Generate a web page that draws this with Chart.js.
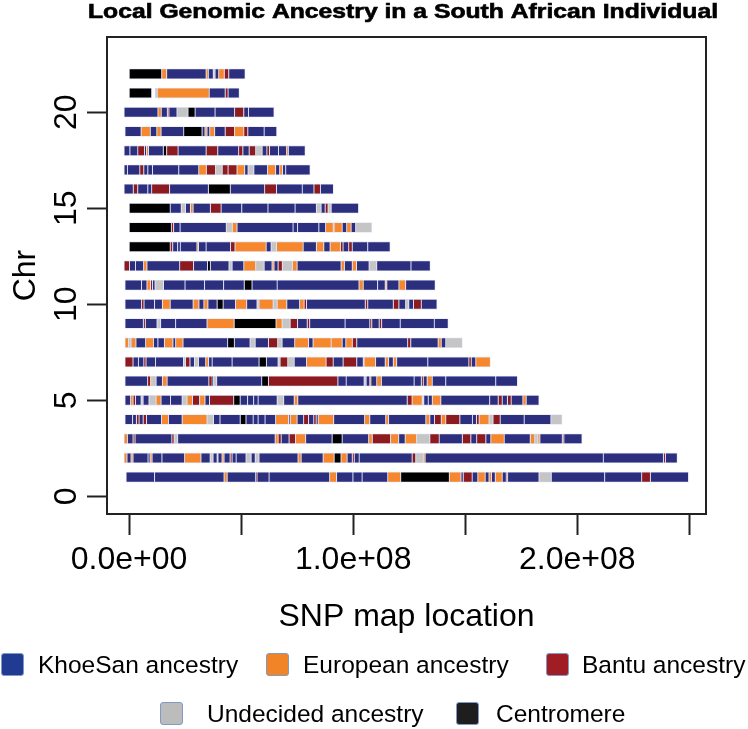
<!DOCTYPE html>
<html>
<head>
<meta charset="utf-8">
<title>Local Genomic Ancestry in a South African Individual</title>
<script src="https://cdn.jsdelivr.net/npm/chart.js@4.4.1/dist/chart.umd.min.js"></script>
<style>
  body { margin: 0; background: #fff; }
  #wrap { position: relative; width: 748px; height: 729px; }
  #key { position: absolute; left: 0; top: 0; width: 748px; height: 729px; pointer-events: none;
         font: 24.5px "Liberation Sans", Arial, Helvetica, sans-serif; color: #000; }
  .swatch { position: absolute; width: 21px; height: 21px; border: 1.5px solid #7f9ac6; border-radius: 3px; }
  .key-text { position: absolute; line-height: 24px; white-space: nowrap; }
</style>
</head>
<body>
<div id="wrap">
  <canvas id="chart" width="748" height="729"></canvas>
  <div id="key"></div>
</div>
<script>
// segments per chromosome: [start (Mb), ancestry], last entry = chromosome end
// K KhoeSan, E European, B Bantu, U undecided, C centromere, '' no call
const chr1 = [[-1.3,'K'],[11.4,'K'],[42.4,'E'],[43.8,'K'],[56.5,'B'],[57.1,'K'],[62.5,'K'],[89.5,'E'],[92.6,'K'],[99.9,'K'],[104,'K'],[115.4,'E'],[121.2,'C'],[142.9,'E'],[148.1,'K'],[149.1,'B'],[153.1,'K'],[155.6,'E'],[158.9,'K'],[160.6,'E'],[161.7,'K'],[163.4,'E'],[166.5,'K'],[168.3,'B'],[168.9,'K'],[182.9,'U'],[188.4,'K'],[212.2,'K'],[228.7,'B'],[232.6,'K'],[249.6]];
const chr2 = [[-2.2,'E'],[-0.9,'K'],[0.9,'E'],[1.8,'K'],[8.5,'K'],[9.4,'E'],[10.3,'K'],[14.7,'K'],[24.8,'E'],[32.1,'K'],[36.2,'U'],[37.5,'K'],[39.3,'U'],[39.7,'K'],[41.5,'E'],[42.4,'K'],[45.1,'B'],[46,'K'],[47.8,'K'],[52.2,'U'],[54.5,'K'],[56.3,'U'],[58,'K'],[75.4,'E'],[76.8,'K'],[86.6,'E'],[91.5,'C'],[94.6,'E'],[97.3,'K'],[99.6,'B'],[100.5,'K'],[102.7,'K'],[126.3,'B'],[127.9,'U'],[131.3,'E'],[132.1,'K'],[211.6,'K'],[238.4,'B'],[239.3,'K'],[244.6]];
const chr3 = [[-2.2,'E'],[-0.7,'K'],[1.8,'B'],[2.7,'K'],[19.1,'B'],[20.1,'U'],[21.7,'K'],[65.2,'E'],[66.5,'B'],[67.9,'K'],[71.4,'B'],[74.3,'E'],[78.8,'K'],[90.6,'C'],[95.1,'K'],[106.9,'E'],[108.5,'B'],[116.7,'E'],[120.3,'K'],[123.2,'E'],[128.3,'U'],[134.2,'B'],[138.4,'K'],[148.7,'B'],[152.5,'K'],[155.1,'B'],[159.2,'K'],[161.4,'E'],[167.4,'K'],[179,'E'],[181,'U'],[182.4,'E'],[183.3,'K'],[193.3,'B'],[194,'K'],[202.1]];
const chr4 = [[-1.8,'K'],[1.6,'K'],[3.3,'B'],[4.5,'K'],[6.3,'B'],[7.8,'K'],[14.5,'E'],[17.6,'K'],[23.7,'E'],[34.8,'U'],[37.7,'K'],[40.6,'K'],[49.6,'C'],[52.2,'K'],[55.4,'K'],[57.6,'K'],[60.7,'K'],[65.4,'E'],[71.2,'K'],[71.9,'E'],[75,'K'],[77.9,'B'],[80.1,'K'],[82.4,'B'],[83.5,'K'],[84.4,'E'],[91.3,'K'],[105.1,'E'],[107.4,'K'],[114.5,'E'],[115.8,'K'],[132.4,'E'],[134.2,'K'],[136.3,'B'],[139.3,'E'],[141.3,'B'],[147.6,'K'],[153.2,'K'],[155,'B'],[156.2,'E'],[160.6,'U'],[162.4,'B'],[165.6,'K'],[176.3,'K'],[188.2,'U'],[193.2]];
const chr5 = [[-1.8,'K'],[0.7,'E'],[1.8,'B'],[2.9,'K'],[5.4,'U'],[6.3,'K'],[8.9,'U'],[12.1,'E'],[14.3,'K'],[18.5,'K'],[23.7,'U'],[25.9,'E'],[28.3,'B'],[31.5,'E'],[33.9,'K'],[35.9,'B'],[46.7,'C'],[49.6,'K'],[52.9,'K'],[55.6,'K'],[57.6,'K'],[66.1,'U'],[69,'K'],[73.7,'E'],[75.3,'K'],[124.1,'B'],[126.3,'E'],[130.8,'U'],[131.5,'K'],[133.5,'K'],[135.3,'E'],[139.1,'K'],[160.9,'K'],[164.7,'B'],[166.5,'K'],[168.8,'B'],[170.5,'K'],[175.7,'E'],[177.2,'K'],[182.9]];
const chr6 = [[-1.8,'K'],[8.3,'B'],[9.6,'E'],[10.1,'U'],[12.1,'K'],[14.9,'E'],[17,'K'],[35.6,'B'],[37.1,'K'],[37.5,'U'],[39.1,'K'],[59.2,'C'],[62.2,'B'],[93.2,'K'],[96.9,'K'],[104.9,'U'],[105.8,'K'],[107.4,'E'],[107.9,'K'],[110.5,'E'],[112.6,'K'],[127.2,'K'],[130.4,'B'],[131.3,'K'],[133,'E'],[135.3,'K'],[141.3,'K'],[163.6,'K'],[173.3]];
const chr7 = [[-1.8,'B'],[1.8,'K'],[4.2,'K'],[6.6,'B'],[7.6,'K'],[11.8,'K'],[24.3,'U'],[25.2,'B'],[27.2,'K'],[29.2,'U'],[31,'K'],[34.2,'E'],[35.5,'K'],[37.1,'K'],[46,'K'],[58,'C'],[61.3,'K'],[66.5,'U'],[67.4,'B'],[70.8,'U'],[73.7,'K'],[79.2,'E'],[87.9,'B'],[91.1,'K'],[95.5,'B'],[101.6,'K'],[104.5,'U'],[104.9,'E'],[110,'K'],[114.3,'E'],[115.8,'K'],[117.9,'E'],[119.4,'K'],[133.3,'K'],[151.6,'B'],[152.7,'K'],[154.7,'E'],[161.2]];
const chr8 = [[-1.8,'E'],[-0.2,'U'],[0.9,'E'],[3.1,'K'],[7.4,'E'],[10.9,'K'],[12.9,'K'],[15.8,'E'],[19.6,'K'],[20.8,'E'],[24.1,'K'],[44,'C'],[47,'K'],[54,'U'],[56.3,'K'],[62.2,'B'],[66.3,'U'],[68.3,'K'],[73.9,'E'],[80.1,'K'],[82.1,'E'],[90.2,'E'],[95.1,'K'],[96.7,'E'],[99.6,'B'],[101.6,'K'],[124.3,'B'],[125.7,'K'],[137.9,'E'],[139.3,'K'],[141.3,'U'],[148.7]];
const chr9 = [[-1.8,'K'],[6.4,'B'],[7.3,'K'],[12.5,'U'],[14.1,'K'],[20.8,'K'],[34.8,'E'],[46.9,'C'],[65.6,'E'],[68.3,'U'],[71.9,'B'],[75.2,'K'],[79.5,'B'],[80.6,'K'],[96.4,'K'],[107.4,'B'],[108.3,'K'],[111.6,'B'],[112.7,'K'],[121,'K'],[136.2,'K'],[142.4]];
const chr10 = [[-1.8,'K'],[5.6,'B'],[6.7,'K'],[11.4,'K'],[14.9,'E'],[18.4,'K'],[28.6,'E'],[31.2,'K'],[33.4,'E'],[35.2,'K'],[39.3,'C'],[42,'K'],[47.5,'E'],[52.5,'K'],[57.1,'U'],[58,'E'],[64.3,'U'],[66.1,'E'],[70.4,'K'],[76.1,'E'],[78.1,'B'],[79.2,'K'],[105.4,'B'],[106.5,'K'],[117.9,'B'],[120.4,'K'],[123.4,'U'],[124.8,'K'],[126.9,'B'],[130.4,'K'],[137.4]];
const chr11 = [[-1.8,'K'],[5.6,'K'],[8,'E'],[9.6,'B'],[10.5,'K'],[11.6,'U'],[15.4,'K'],[25,'K'],[33.7,'K'],[42.2,'K'],[51.4,'C'],[54.9,'K'],[66.1,'K'],[102.6,'E'],[104.5,'K'],[110.9,'K'],[114.3,'E'],[115,'K'],[120.4,'E'],[123.4,'K'],[136.6]];
const chr12 = [[-2.2,'B'],[0.2,'K'],[2.9,'K'],[6.5,'E'],[8,'K'],[22.6,'B'],[28.8,'K'],[35,'C'],[36.3,'K'],[44.6,'U'],[46,'K'],[51.2,'E'],[56.5,'U'],[60.3,'K'],[63.8,'E'],[64.7,'K'],[66.5,'B'],[68.4,'U'],[72.9,'E'],[75,'K'],[94.6,'E'],[96.1,'K'],[99.6,'E'],[101.5,'K'],[107.1,'U'],[110.5,'K'],[125.8,'K'],[134.4]];
const chr13 = [[0.1,'C'],[18.4,'B'],[19.5,'K'],[21.7,'K'],[22.9,'K'],[30.3,'E'],[31,'K'],[34.4,'K'],[45.3,'B'],[47.3,'E'],[61.2,'K'],[63.4,'U'],[65.8,'E'],[77.7,'K'],[83.6,'E'],[86.9,'K'],[89.7,'E'],[94.3,'B'],[95.5,'K'],[98,'B'],[99.6,'K'],[106.5,'K'],[116.5]];
const chr14 = [[0.1,'C'],[18.9,'B'],[19.9,'K'],[22.8,'K'],[43.4,'U'],[46.1,'E'],[48.2,'K'],[73.2,'K'],[75.2,'K'],[84.7,'K'],[87.7,'E'],[91.1,'U'],[91.5,'E'],[95.1,'K'],[97.1,'E'],[99.1,'K'],[101.1,'U'],[108.3]];
const chr15 = [[0.1,'C'],[18.4,'K'],[23.3,'U'],[25.2,'K'],[27.4,'E'],[28.6,'K'],[36.3,'B'],[41.1,'K'],[50.3,'K'],[62,'K'],[74.1,'K'],[83.6,'U'],[85.7,'K'],[87.5,'B'],[88.8,'U'],[90.2,'K'],[102.4]];
const chr16 = [[-2.2,'K'],[1.9,'B'],[3.9,'K'],[8.4,'K'],[10.1,'B'],[18.1,'K'],[35.4,'C'],[45.2,'K'],[60.5,'B'],[65.8,'K'],[77.3,'K'],[82.5,'B'],[85.4,'K'],[91.2]];
const chr17 = [[-2.2,'K'],[-0.7,'K'],[4.8,'B'],[6.6,'K'],[8.4,'K'],[10.5,'K'],[22.2,'K'],[31.1,'E'],[34.5,'B'],[38.6,'U'],[41.6,'B'],[44.2,'B'],[48.2,'E'],[51.6,'K'],[53.1,'U'],[55.7,'K'],[61.8,'E'],[65.4,'K'],[67.2,'E'],[68.5,'K'],[69.9,'K'],[80.8]];
const chr18 = [[-2.2,'K'],[0.4,'K'],[3.9,'B'],[6.9,'K'],[7.8,'E'],[8.7,'K'],[15.3,'C'],[16.8,'B'],[21.9,'K'],[34.4,'B'],[39.6,'K'],[48.9,'B'],[50.8,'K'],[53.6,'B'],[56.5,'U'],[59.4,'K'],[61.5,'B'],[62.7,'K'],[66.7,'K'],[70.3,'E'],[71.1,'K'],[78.6]];
const chr19 = [[-1.8,'K'],[5.4,'E'],[9.5,'K'],[12.4,'E'],[14.3,'K'],[24.4,'C'],[32.6,'K'],[33.9,'E'],[34.8,'K'],[36,'E'],[38.2,'K'],[42.9,'B'],[47.1,'E'],[51.2,'B'],[53,'K'],[60.3,'K'],[65.9]];
const chr20 = [[-2.2,'K'],[12.9,'E'],[14.4,'K'],[17.1,'B'],[17.8,'K'],[21.4,'U'],[26.3,'C'],[29.5,'K'],[38.4,'K'],[47.1,'B'],[51.2,'K'],[53.3,'K'],[64.7]];
const chr21 = [[0.1,'C'],[10.1,''],[11.6,'U'],[12.6,'E'],[35.8,'K'],[42.9,'B'],[44.2,'K'],[49.2]];
const chr22 = [[0.1,'C'],[14.6,'E'],[16.8,'K'],[34.4,'E'],[35.4,'K'],[37.6,'U'],[38.4,'K'],[40,'E'],[42.5,'B'],[44.5,'K'],[51.8]];

const chromosomes = [chr1, chr2, chr3, chr4, chr5, chr6, chr7, chr8, chr9, chr10, chr11,
  chr12, chr13, chr14, chr15, chr16, chr17, chr18, chr19, chr20, chr21, chr22];

const codes = ['K', 'E', 'B', 'U', 'C'];
const ancestryNames = ['KhoeSan ancestry', 'European ancestry', 'Bantu ancestry', 'Undecided ancestry', 'Centromere'];
const barColors = ['#2c2f7e', '#f6872c', '#8c1a1e', '#c5c5c5', '#000000'];
const keyColors = ['#213a92', '#f28428', '#a01e23', '#bcbcbc', '#1e1e1e'];

const xTicks = [0, 50, 100, 150, 200, 250];
const xTickLabels = ['0.0e+00', '', '1.0e+08', '', '2.0e+08', ''];
const yTicks = [0, 5, 10, 15, 20];
const chartTitle = 'Local Genomic Ancestry in a South African Individual';

// legend placement (px)
const keyBoxX = [1, 266, 546, 160, 456];
const keyTextX = [38, 303, 582, 207, 496];
const keyRowY = [665, 665, 665, 714, 714];

function segmentsOf(code) {
  const out = [];
  chromosomes.forEach((segs, i) => {
    for (let j = 0; j < segs.length - 1; j++) {
      if (segs[j][1] === code) out.push({ y: i + 1, x: [segs[j][0], segs[j + 1][0]] });
    }
  });
  return out;
}

Chart.defaults.font.family = '"Liberation Sans", Arial, Helvetica, sans-serif';
Chart.defaults.color = '#000';

// plot title, drawn wide like the original
const titlePlugin = {
  id: 'plotTitle',
  afterDraw(chart) {
    const ctx = chart.ctx;
    ctx.save();
    ctx.font = 'bold 19.5px "Liberation Sans", Arial, sans-serif';
    const w = ctx.measureText(chartTitle).width;
    ctx.translate(403, 18);
    ctx.scale(630 / w, 1);
    ctx.textAlign = 'center';
    ctx.textBaseline = 'alphabetic';
    ctx.fillStyle = '#000';
    ctx.strokeStyle = '#000';
    ctx.lineWidth = 0.6;
    ctx.fillText(chartTitle, 0, 0);
    ctx.strokeText(chartTitle, 0, 0);
    ctx.restore();
  }
};

// box round the plot region
const framePlugin = {
  id: 'frame',
  afterDatasetsDraw(chart) {
    const { left, top, right, bottom } = chart.chartArea;
    const ctx = chart.ctx;
    ctx.save();
    ctx.strokeStyle = '#222';
    ctx.lineWidth = 2;
    ctx.strokeRect(left, top, right - left, bottom - top);
    ctx.restore();
  }
};

new Chart(document.getElementById('chart'), {
  type: 'bar',
  data: {
    datasets: codes.map((c, k) => ({
      label: ancestryNames[k],
      data: segmentsOf(c),
      backgroundColor: barColors[k],
      borderColor: 'rgba(222,226,246,0.95)',
      borderWidth: 0.8,
      borderSkipped: false,
      barThickness: 10,
      grouped: false
    }))
  },
  options: {
    indexAxis: 'y',
    responsive: false,
    animation: false,
    layout: { padding: { top: 37, right: 42, bottom: 0, left: 0 } },
    plugins: {
      legend: { display: false },
      title: { display: false },
      tooltip: { enabled: false }
    },
    scales: {
      x: {
        type: 'linear',
        min: -9.82,
        max: 257.4,
        afterBuildTicks: s => { s.ticks = xTicks.map(v => ({ value: v })); },
        afterFit: s => { s.height = 215; },
        border: { display: false },
        grid: { drawOnChartArea: false, drawTicks: true, tickLength: 21, tickWidth: 2, tickColor: '#222' },
        ticks: {
          autoSkip: false, maxRotation: 0, minRotation: 0, padding: 6,
          font: { size: 32 },
          callback: (v, i) => xTickLabels[i]
        },
        title: { display: true, text: 'SNP map location', font: { size: 32 }, padding: { top: 0, bottom: 93 } }
      },
      y: {
        type: 'linear',
        min: -0.92,
        max: 23.92,
        offset: false,
        afterBuildTicks: s => { s.ticks = yTicks.map(v => ({ value: v })); },
        afterFit: s => { s.width = 107; },
        border: { display: false },
        grid: { offset: false, drawOnChartArea: false, drawTicks: true, tickLength: 20, tickWidth: 2, tickColor: '#222' },
        ticks: {
          minRotation: 90, maxRotation: 90, crossAlign: 'center', padding: 2,
          font: { size: 32 },
          callback: v => String(v)
        },
        title: { display: true, text: 'Chr', font: { size: 32 }, padding: { top: 7, bottom: 0 } }
      }
    }
  },
  plugins: [titlePlugin, framePlugin]
});

// legend key
const key = document.getElementById('key');
ancestryNames.forEach((name, k) => {
  const box = document.createElement('div');
  box.className = 'swatch';
  box.style.left = keyBoxX[k] + 'px';
  box.style.top = (keyRowY[k] - 12) + 'px';
  box.style.background = keyColors[k];
  key.appendChild(box);
  const txt = document.createElement('div');
  txt.className = 'key-text';
  txt.style.left = keyTextX[k] + 'px';
  txt.style.top = (keyRowY[k] - 12) + 'px';
  txt.textContent = name;
  key.appendChild(txt);
});
</script>
</body>
</html>
